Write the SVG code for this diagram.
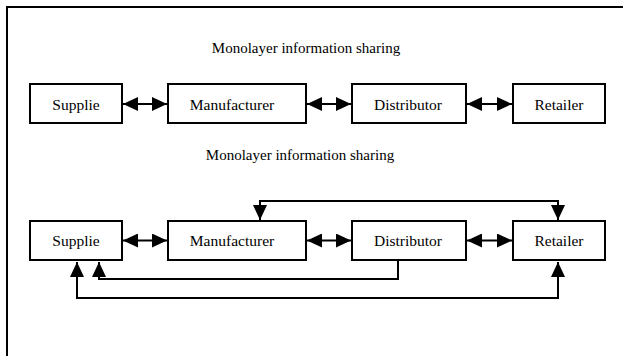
<svg xmlns="http://www.w3.org/2000/svg" width="623" height="356" viewBox="0 0 623 356">
<defs>
<style>
.box{fill:#fff;stroke:#000;stroke-width:2}
.lbl{font-family:"Liberation Serif","Times New Roman",serif;font-size:15.5px;fill:#000;text-anchor:middle}
.ttl{font-family:"Liberation Serif","Times New Roman",serif;font-size:15px;fill:#000;text-anchor:middle}
.con{fill:none;stroke:#000;stroke-width:2}
</style>
<marker id="ah" markerUnits="userSpaceOnUse" markerWidth="15" markerHeight="14" refX="15" refY="7" orient="auto-start-reverse" viewBox="0 0 15 14">
<path d="M0,0 L15,7 L0,14 Z" fill="#000"/>
</marker>
</defs>
<rect x="0" y="0" width="623" height="356" fill="#fff"/>
<rect x="7" y="7" width="700" height="400" fill="none" stroke="#000" stroke-width="2"/>
<text class="ttl" x="306" y="53">Monolayer information sharing</text>
<text class="ttl" x="300" y="160">Monolayer information sharing</text>
<g id="top-supplier"><rect class="box" x="30" y="84" width="92" height="39"/><text class="lbl" x="76" y="110">Supplie</text></g>
<g id="top-manufacturer"><rect class="box" x="168" y="84" width="138" height="39"/><text class="lbl" x="232" y="110">Manufacturer</text></g>
<g id="top-distributor"><rect class="box" x="352" y="84" width="114" height="39"/><text class="lbl" x="408" y="110">Distributor</text></g>
<g id="top-retailer"><rect class="box" x="513" y="84" width="92" height="39"/><text class="lbl" x="559" y="110">Retailer</text></g>
<g id="bot-supplier"><rect class="box" x="30" y="221" width="92" height="39"/><text class="lbl" x="76" y="246">Supplie</text></g>
<g id="bot-manufacturer"><rect class="box" x="168" y="221" width="138" height="39"/><text class="lbl" x="232" y="246">Manufacturer</text></g>
<g id="bot-distributor"><rect class="box" x="352" y="221" width="114" height="39"/><text class="lbl" x="408" y="246">Distributor</text></g>
<g id="bot-retailer"><rect class="box" x="513" y="221" width="92" height="39"/><text class="lbl" x="559" y="246">Retailer</text></g>
<g id="connectors">
<line class="con" x1="123" y1="104" x2="167" y2="104" marker-start="url(#ah)" marker-end="url(#ah)"/>
<line class="con" x1="307" y1="104" x2="351" y2="104" marker-start="url(#ah)" marker-end="url(#ah)"/>
<line class="con" x1="467" y1="104" x2="512" y2="104" marker-start="url(#ah)" marker-end="url(#ah)"/>
<line class="con" x1="123" y1="240.5" x2="167" y2="240.5" marker-start="url(#ah)" marker-end="url(#ah)"/>
<line class="con" x1="307" y1="240.5" x2="351" y2="240.5" marker-start="url(#ah)" marker-end="url(#ah)"/>
<line class="con" x1="467" y1="240.5" x2="512" y2="240.5" marker-start="url(#ah)" marker-end="url(#ah)"/>
<path class="con" d="M260,220 V201 H558 V220" marker-start="url(#ah)" marker-end="url(#ah)"/>
<path class="con" d="M398,261 V279 H99 V262" marker-end="url(#ah)"/>
<path class="con" d="M77,262 V298 H558 V262" marker-start="url(#ah)" marker-end="url(#ah)"/>
</g>
</svg>
